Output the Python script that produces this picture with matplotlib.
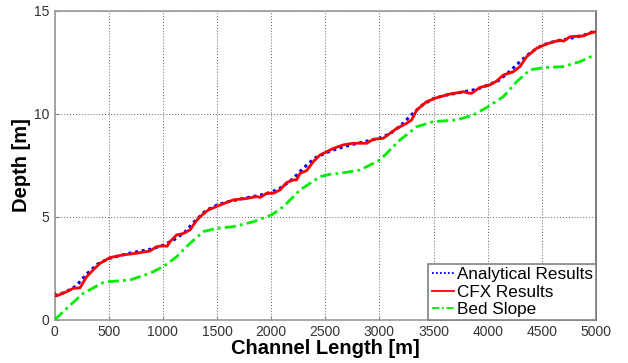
import matplotlib
matplotlib.use("Agg")
import matplotlib.pyplot as plt
import numpy as np

plt.rcParams['font.family'] = ['Liberation Sans', 'DejaVu Sans']

# Channel position [m] and depth profiles [m]
x_analytical = [0, 100, 200, 300, 400, 500, 600, 700, 800, 900, 1000, 1100, 1200,
                1300, 1400, 1500, 1600, 1700, 1800, 1900, 2000, 2100, 2200, 2300,
                2400, 2500, 2600, 2700, 2800, 2900, 3000, 3100, 3200, 3300, 3400,
                3500, 3600, 3700, 3800, 3900, 4000, 4100, 4200, 4300, 4400, 4500,
                4600, 4700, 4800, 4900, 5000]
y_analytical = [1.18, 1.35, 1.65, 2.25, 2.72, 2.98, 3.12, 3.25, 3.35, 3.45, 3.62,
                3.88, 4.25, 4.82, 5.32, 5.58, 5.74, 5.85, 5.96, 6.06, 6.2, 6.45,
                6.85, 7.38, 7.85, 8.1, 8.3, 8.45, 8.58, 8.7, 8.82, 9.05, 9.45, 9.98,
                10.45, 10.75, 10.9, 11.0, 11.1, 11.2, 11.4, 11.62, 12.05, 12.55,
                13.0, 13.33, 13.5, 13.6, 13.72, 13.85, 14.05]

x_cfx = [0, 20, 112, 174, 235, 297, 360, 420, 512, 635, 758, 882, 943, 1005, 1040,
         1066, 1128, 1190, 1251, 1300, 1343, 1420, 1528, 1651, 1774, 1867, 1900,
         1959, 2020, 2082, 2144, 2205, 2235, 2267, 2328, 2390, 2452, 2575, 2667,
         2760, 2883, 2944, 3036, 3098, 3160, 3252, 3298, 3344, 3437, 3529, 3652,
         3775, 3820, 3850, 3929, 4021, 4083, 4144, 4236, 4298, 4360, 4452, 4544,
         4667, 4700, 4760, 4883, 4944, 5000]
y_cfx = [1.3, 1.17, 1.37, 1.54, 1.56, 2.1, 2.45, 2.75, 3.03, 3.16, 3.24, 3.35,
         3.56, 3.6, 3.58, 3.8, 4.13, 4.2, 4.37, 4.75, 5.01, 5.34, 5.58, 5.83, 5.9,
         5.99, 5.95, 6.15, 6.15, 6.31, 6.67, 6.8, 6.8, 7.12, 7.25, 7.69, 8.01,
         8.33, 8.5, 8.58, 8.58, 8.77, 8.82, 9.06, 9.3, 9.55, 9.71, 10.19, 10.6,
         10.79, 10.97, 11.08, 11.02, 11.0, 11.29, 11.41, 11.6, 11.89, 12.05, 12.3,
         12.78, 13.19, 13.4, 13.59, 13.53, 13.75, 13.79, 13.92, 14.0]

x_bed = [0, 100, 266, 451, 500, 697, 882, 1005, 1128, 1251, 1374, 1497, 1651, 1836,
         2005, 2113, 2267, 2452, 2550, 2636, 2821, 3006, 3190, 3344, 3498, 3714,
         3867, 4006, 4144, 4268, 4391, 4513, 4698, 4852, 5000]
y_bed = [0.0, 0.5, 1.3, 1.82, 1.86, 1.94, 2.27, 2.59, 3.07, 3.72, 4.29, 4.45,
         4.53, 4.77, 5.1, 5.5, 6.31, 6.96, 7.08, 7.12, 7.28, 7.77, 8.74, 9.38,
         9.63, 9.71, 9.95, 10.36, 10.84, 11.57, 12.14, 12.25, 12.3, 12.54, 12.9]

x_ticks = [0, 500, 1000, 1500, 2000, 2500, 3000, 3500, 4000, 4500, 5000]
y_ticks = [0, 5, 10, 15]

fig = plt.figure(figsize=(6.28, 3.63), dpi=100)
ax = fig.add_axes([0.0868, 0.1185, 0.8622, 0.8512])

ax.plot(x_analytical, y_analytical, color='#0000ff', linestyle=(0, (1, 1.2)),
        linewidth=2.2, label='Analytical Results', zorder=3)
ax.plot(x_cfx, y_cfx, color='#ff0000', linestyle='-', linewidth=2.0,
        label='CFX Results', zorder=4)
ax.plot(x_bed, y_bed, color='#00ee00', linestyle=(0, (4, 1.5, 1, 1.5)),
        linewidth=2.0, label='Bed Slope', zorder=3)

ax.set_xlim(0, 5000)
ax.set_ylim(0, 15)
ax.set_xticks(x_ticks)
ax.set_yticks(y_ticks)
ax.tick_params(labelsize=10, colors='#333333', length=3, direction='in',
               color='#808080')

ax.grid(True, color='#606060', linestyle=(0, (1, 2)), linewidth=0.7)
for side in ['left', 'bottom', 'top']:
    ax.spines[side].set_color('#999999')
ax.spines['right'].set_color('#666666')
for s in ax.spines.values():
    s.set_linewidth(1.2)

ax.set_xlabel('Channel Length [m]', fontsize=14.5, fontweight='bold', labelpad=0)
ax.set_ylabel('Depth [m]', fontsize=14.5, fontweight='bold', labelpad=2.5)

leg = ax.legend(loc='lower right', fontsize=12.3, borderaxespad=0,
                handlelength=1.3, handletextpad=0.15, labelspacing=0.12,
                borderpad=0.2, fancybox=False, framealpha=1)
leg.get_frame().set_edgecolor('#808080')
leg.get_frame().set_linewidth(1.2)
for handle in leg.get_lines():
    handle.set_linewidth(1.3)

fig.savefig('out.png', dpi=100)
